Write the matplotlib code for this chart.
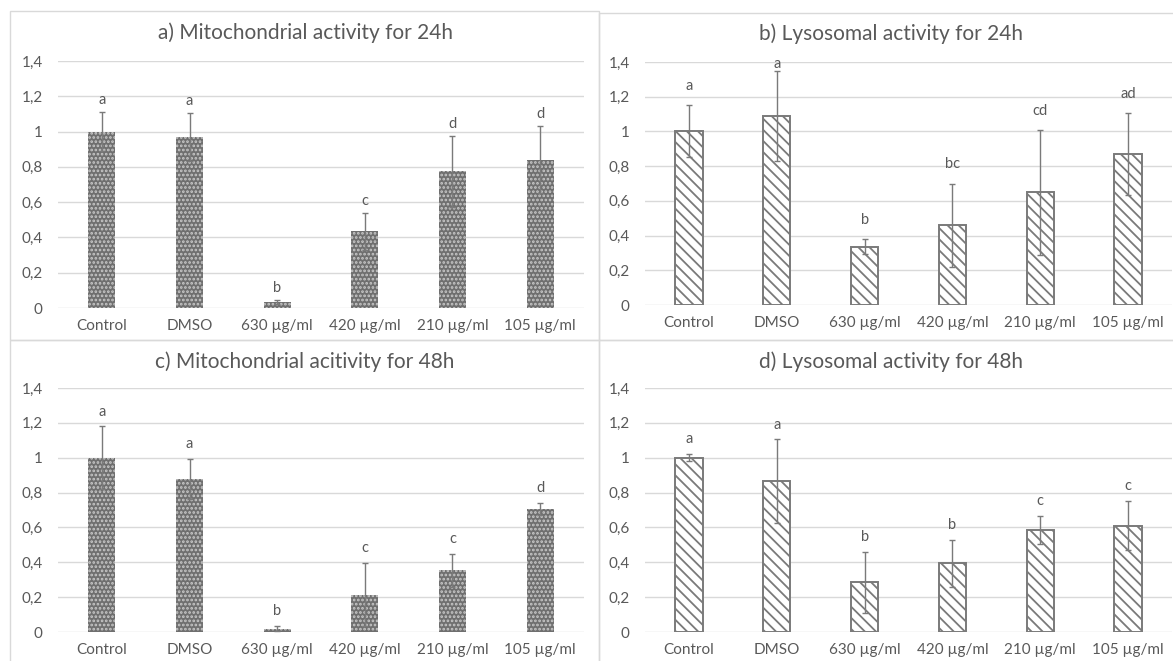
import matplotlib
matplotlib.use("Agg")
import matplotlib.pyplot as plt
from matplotlib.patches import Rectangle
from matplotlib.ticker import FuncFormatter

# ---------------- data ----------------
categories = ['Control', 'DMSO', '630 µg/ml', '420 µg/ml', '210 µg/ml', '105 µg/ml']

mito_24 = [1.00, 0.97, 0.035, 0.435, 0.775, 0.84]
mito_24_err = [0.11, 0.135, 0.012, 0.105, 0.20, 0.19]
mito_24_letters = ['a', 'a', 'b', 'c', 'd', 'd']

lyso_24 = [1.00, 1.09, 0.335, 0.46, 0.65, 0.87]
lyso_24_err = [0.15, 0.26, 0.043, 0.24, 0.36, 0.235]
lyso_24_letters = ['a', 'a', 'b', 'bc', 'cd', 'ad']

mito_48 = [1.00, 0.88, 0.02, 0.215, 0.355, 0.705]
mito_48_err = [0.18, 0.115, 0.015, 0.18, 0.095, 0.035]
mito_48_letters = ['a', 'a', 'b', 'c', 'c', 'd']

lyso_48 = [1.00, 0.865, 0.285, 0.395, 0.585, 0.61]
lyso_48_err = [0.02, 0.24, 0.175, 0.135, 0.08, 0.14]
lyso_48_letters = ['a', 'a', 'b', 'b', 'c', 'c']

titles = ['a) Mitochondrial activity for 24h', 'b) Lysosomal activity for 24h',
          'c) Mitochondrial acitivity for 48h', 'd) Lysosomal activity for 48h']

TEXT = '#595959'
GRID = '#d9d9d9'
W, H = 1173, 661

plt.rcParams['font.family'] = ['Lato', 'DejaVu Sans']
plt.rcParams['hatch.linewidth'] = 1.3

fig = plt.figure(figsize=(W / 100, H / 100), dpi=100)


def fx(px):
    return px / W


def fy(py):
    return 1 - py / H


# panel frames (pixel boxes: left, top, right, bottom)
for l, t, r, b in [(10, 11, 599, 340), (599, 13, 1180, 340),
                   (10, 340, 599, 670), (599, 340, 1180, 670)]:
    fig.add_artist(Rectangle((fx(l), fy(b)), fx(r - l), fy(t) - fy(b),
                             transform=fig.transFigure, fill=False,
                             edgecolor=GRID, linewidth=1))


def fmt(v, pos):
    return ('%g' % round(v, 1)).replace('.', ',')


def draw_panel(box, vals, errs, letters, title, title_xy, style, off):
    l, t, r, b = box
    ax = fig.add_axes([fx(l), fy(b), fx(r - l), fy(t) - fy(b)])
    x = list(range(len(categories)))
    if style == 'dots':
        ax.bar(x, vals, width=0.31, color='#6f6f6f', edgecolor='#c8c8c8',
               hatch='....', linewidth=0, zorder=2)
    else:
        ax.bar(x, vals, width=0.31, color='white', edgecolor='#7a7a7a',
               hatch='\\\\\\', linewidth=1.4, zorder=2)
    ax.errorbar(x, vals, yerr=errs, fmt='none', ecolor='#7a7a7a',
                elinewidth=1, capsize=2.5, capthick=1, zorder=3)
    for xi, v, e, s in zip(x, vals, errs, letters):
        ax.text(xi, min(v + e + off, 1.39), s, ha='center', va='center',
                fontsize=10.5, color=TEXT, zorder=4)
    ax.set_xlim(-0.5, len(categories) - 0.5)
    ax.set_ylim(0, 1.4)
    ax.set_yticks([0, 0.2, 0.4, 0.6, 0.8, 1.0, 1.2, 1.4])
    ax.yaxis.set_major_formatter(FuncFormatter(fmt))
    ax.set_xticks(x)
    ax.set_xticklabels(categories)
    ax.yaxis.grid(True, color=GRID, linewidth=1)
    ax.set_axisbelow(True)
    for sp in ax.spines.values():
        sp.set_visible(False)
    ax.tick_params(axis='both', length=0, colors=TEXT, labelsize=11)
    ax.tick_params(axis='y', pad=11)
    ax.tick_params(axis='x', pad=8)
    fig.text(fx(title_xy[0]), fy(title_xy[1]), title, ha='center', va='center',
             fontsize=15, color=TEXT)
    return ax


draw_panel((58, 61, 584, 308), mito_24, mito_24_err, mito_24_letters,
           titles[0], (305, 33), 'dots', 0.068)
draw_panel((645, 62, 1172, 305), lyso_24, lyso_24_err, lyso_24_letters,
           titles[1], (891, 34), 'lines', 0.11)
draw_panel((58, 388, 584, 632), mito_48, mito_48_err, mito_48_letters,
           titles[2], (305, 362), 'dots', 0.085)
draw_panel((645, 388, 1172, 632), lyso_48, lyso_48_err, lyso_48_letters,
           titles[3], (891, 362), 'lines', 0.085)

fig.savefig('out.png', dpi=100)
